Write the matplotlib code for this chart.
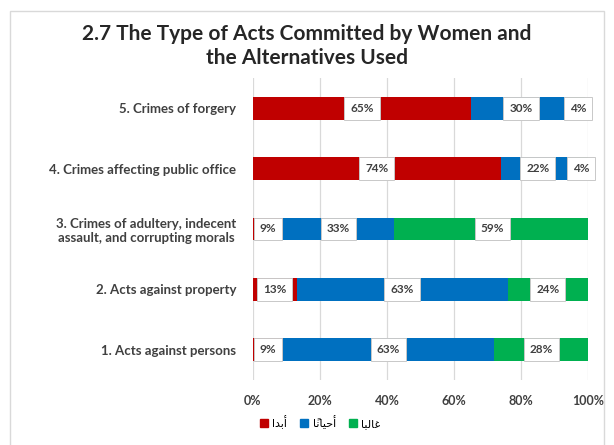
import matplotlib
matplotlib.use("Agg")
import matplotlib.pyplot as plt
from matplotlib.patches import Rectangle, Patch

# Categories, bottom to top
categories = [
    "1. Acts against persons",
    "2. Acts against property",
    "3. Crimes of adultery, indecent\nassault, and corrupting morals",
    "4. Crimes affecting public office",
    "5. Crimes of forgery",
]

# Share of each response (percent)
never = [9, 13, 9, 74, 65]
sometimes = [63, 63, 33, 22, 30]
often = [28, 24, 59, 4, 4]

# Legend names (Arabic, presentation forms in visual order)
series_names = [
    "\uFE8D\uFEAA\uFE91\uFE83",                     # أبدا
    "\uFE8E\u064B\uFEE7\uFE8E\uFEF4\uFEA3\uFE83",   # أحياناً
    "\uFE8E\uFE92\uFEDF\uFE8E\uFECF",               # غالبا
]
series_colors = ["#C00000", "#0070C0", "#00B050"]

xticks = [0, 20, 40, 60, 80, 100]
xtick_labels = ["0%", "20%", "40%", "60%", "80%", "100%"]

title = "2.7 The Type of Acts Committed by Women and\nthe Alternatives Used"

W, H = 614, 445
fig = plt.figure(figsize=(W / 100, H / 100), dpi=100)
fig.patch.set_facecolor("white")

# light chart frame
fig.patches.append(Rectangle((10 / W, -0.05), (604 - 10) / W, 1.05 - 11 / H,
                             transform=fig.transFigure, fill=False,
                             edgecolor="#d9d9d9", linewidth=1.0))

ax = fig.add_axes([253 / W, 1 - 380 / H, (588 - 253) / W, (380 - 78) / H])
ax.set_xlim(0, 100)
ax.set_ylim(-0.5, len(categories) - 0.5)

ypos = list(range(len(categories)))
bar_h = 0.38
left = [0] * len(categories)
series = [never, sometimes, often]
for vals, color in zip(series, series_colors):
    ax.barh(ypos, vals, left=left, height=bar_h, color=color, zorder=2)
    for y, v, l in zip(ypos, vals, left):
        ax.text(l + v / 2, y, f"{v}%", ha="center", va="center",
                fontsize=8.5, fontweight="bold", color="#404040",
                family="Lato", zorder=4,
                bbox=dict(boxstyle="square,pad=0.5", facecolor="white",
                          edgecolor="#c8c8c8", linewidth=0.7))
    left = [a + b for a, b in zip(left, vals)]

ax.set_yticks(ypos)
ax.set_yticklabels(categories, fontsize=9.5, fontweight="bold",
                   color="#404040", family="Lato", multialignment="center")
ax.set_xticks(xticks)
ax.set_xticklabels(xtick_labels, fontsize=9, fontweight="bold",
                   color="#404040", family="Lato")
ax.tick_params(length=0)
ax.tick_params(axis="x", pad=11)
ax.tick_params(axis="y", pad=12)
for s in ax.spines.values():
    s.set_visible(False)
ax.grid(axis="x", color="#d9d9d9", linewidth=0.9, zorder=0)
ax.set_axisbelow(True)

fig.text(0.5, 1 - 46 / H, title, ha="center", va="center",
         fontsize=15, fontweight="bold", color="#262626", family="Lato",
         linespacing=1.2)

handles = [Patch(facecolor=c, edgecolor=c) for c in series_colors]
fig.legend(handles, series_names, loc="center left",
           bbox_to_anchor=(250 / W, 1 - 422 / H), ncol=3, frameon=False,
           prop={"family": "DejaVu Sans", "size": 8},
           handlelength=0.7, handleheight=0.7, handletextpad=0.4,
           columnspacing=1.2)

fig.savefig("out.png", dpi=100, facecolor="white")
